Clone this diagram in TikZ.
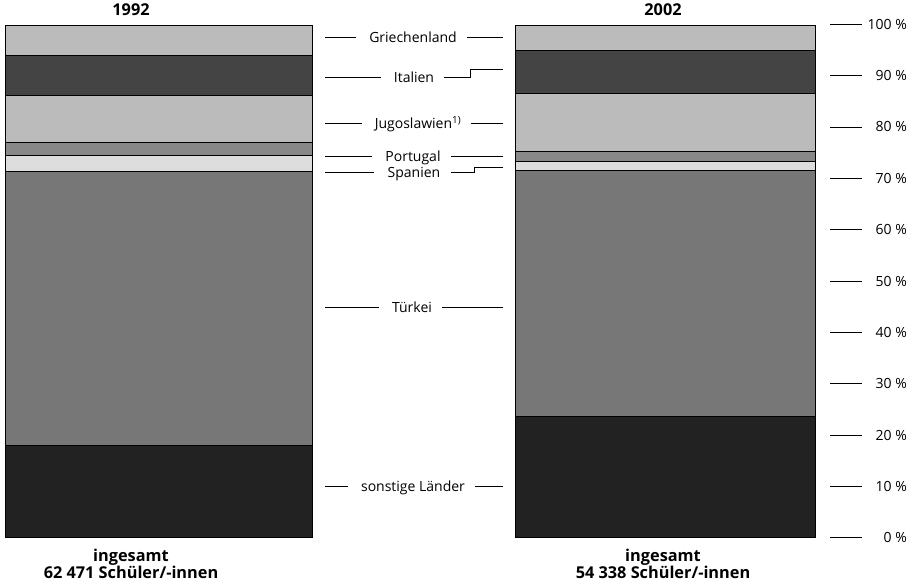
\documentclass[tikz,border=0pt]{standalone}
\usepackage{fontspec}
\setmainfont{Open Sans}
\usetikzlibrary{positioning, calc}

\definecolor{hellgrau}{HTML}{BBBBBB}
\definecolor{dunkel}{HTML}{444444}
\definecolor{mittel}{HTML}{888888}
\definecolor{blass}{HTML}{DDDDDD}
\definecolor{tuerk}{HTML}{777777}
\definecolor{schwarz}{HTML}{222222}

\begin{document}
\begin{tikzpicture}[x=1pt, y=-1pt,
					seg/.style={draw=black, line width=0.8pt},
					lbl/.style={font=\fontsize{14}{16}\selectfont, text height=10pt, text depth=0pt, inner sep=0pt},
					titel/.style={font=\bfseries\fontsize{16.3}{17}\selectfont, align=center, inner sep=0pt},
					leader/.style={line width=0.8pt},
					links/.style={leader, shorten >=13pt},
					rechts/.style={leader, shorten <=10pt} ]
	\useasboundingbox (0,0) rectangle (919,582);

	%Balken 1992
	\foreach \o/\u/\c in {25/55/hellgrau, 55/95/dunkel, 95/142.7/hellgrau, 142.7/155/mittel,
						  155/171/blass, 171/445.3/tuerk, 445.3/537.7/schwarz}
		\draw[seg, fill=\c] (5,\o) rectangle (312,\u);
	%Balken 2002
	\foreach \o/\u/\c in {25/50/hellgrau, 50/93.3/dunkel, 93.3/151/hellgrau, 151/161.3/mittel,
						  161.3/170/blass, 170/416/tuerk, 416/537.7/schwarz}
		\draw[seg, fill=\c] (515.7,\o) rectangle (815,\u);

	\node[titel] (j1) at (131,9.5)   {1992};
	\node[titel] (j2) at (663,9.5)   {2002};
	\node[titel] (s1) at (131,563.5) {ingesamt\\62 471 Schüler/-innen};
	\node[titel] (s2) at (663,563.5) {ingesamt\\54 338 Schüler/-innen};

	%Beschriftung der Länder
	\node[lbl] (gr) at (413,37)    {Griechenland};
	\node[lbl] (it) at (414,77.3)  {Italien};
	\node[lbl] (ju) at (418,123.3) {Jugoslawien\textsuperscript{1)}};
	\node[lbl] (po) at (413,156.7) {Portugal};
	\node[lbl] (sp) at (414,172.7) {Spanien};
	\node[lbl] (tu) at (412,307)   {Türkei};
	\node[lbl] (so) at (413,486.7) {sonstige Länder};

	\coordinate (L) at (325,0);
	\coordinate (R) at (502.7,0);
	\coordinate (itR) at (502.7,69.7);
	\coordinate (spR) at (502.7,167.3);

	\foreach \n in {gr,it,ju,po,sp,tu,so}
		\draw[links] (L |- \n.west) -- (\n.west);
	\foreach \n in {gr,ju,po,tu,so}
		\draw[rechts] (\n.east) -- (R |- \n.east);
	\draw[rechts] (it.east) -| ([xshift=-32pt]itR) -- (itR);
	\draw[rechts] (sp.east) -| ([xshift=-28.7pt]spR) -- (spR);

	%Prozentachse
	\foreach \i in {0,...,10} {
		\coordinate (t\i) at (830,537.7-51.34*\i);
		\node[lbl, anchor=east] (p\i) at (907,537.7-51.34*\i) {\the\numexpr\i*10\relax{} \%};
		\draw[leader] (t\i) -- ++(31.7,0);
	}
\end{tikzpicture}
\end{document}
